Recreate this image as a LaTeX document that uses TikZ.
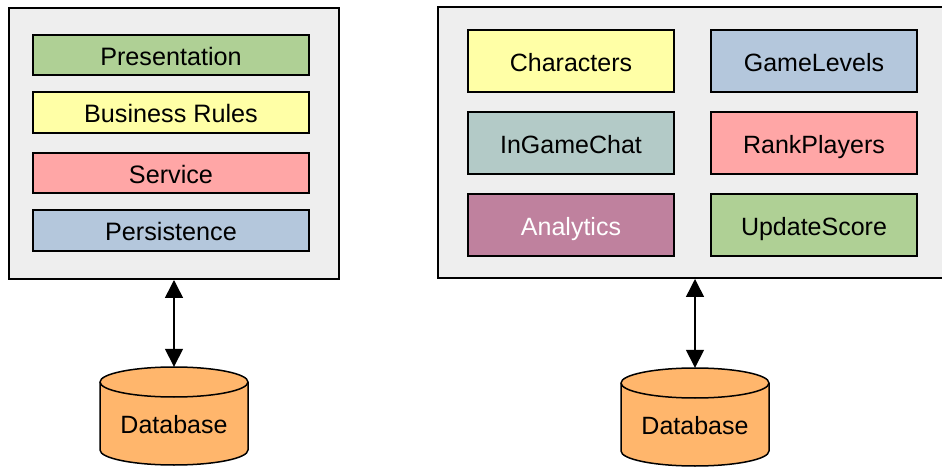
\documentclass[tikz,border=0pt]{standalone}
\usepackage{fontspec}
\setmainfont{Liberation Sans}
\usetikzlibrary{arrows.meta}
\definecolor{cgreen}{HTML}{AFD095}
\definecolor{cyellow}{HTML}{FFFFA6}
\definecolor{cred}{HTML}{FFA6A6}
\definecolor{cblue}{HTML}{B4C7DC}
\definecolor{cteal}{HTML}{B3CAC7}
\definecolor{cmagenta}{HTML}{BF819E}
\definecolor{corange}{HTML}{FFB66C}
\definecolor{cbg}{HTML}{EEEEEE}
\tikzset{
  container/.style={draw=black, fill=cbg, line width=2pt, rectangle, inner sep=0pt},
  layerbox/.style={draw=black, line width=1.5pt, rectangle, minimum width=276pt, inner sep=0pt, text height=21pt, text depth=0pt, font=\fontsize{25.2}{28}\selectfont},
  modbox/.style={draw=black, line width=1.5pt, rectangle, minimum width=206pt, minimum height=62pt, inner sep=0pt, text height=21pt, text depth=0pt, font=\fontsize{25}{28}\selectfont},
  dbnode/.style={rectangle, minimum width=148pt, minimum height=98pt, inner sep=0pt},
  dbtext/.style={font=\fontsize{25}{28}\selectfont, inner sep=0pt},
  cyl/.style={draw=black, fill=corange, line width=1.5pt},
  link/.style={line width=1.5pt, {Triangle[width=18pt,length=18pt]}-{Triangle[width=18pt,length=18pt]}}
}
\begin{document}
\begin{tikzpicture}[x=1pt,y=1pt]
\useasboundingbox (0,0) rectangle (942,466);
% left container
\node[container, minimum width=330pt, minimum height=271pt] (lc) at (174,322.5) {};
\node[layerbox, fill=cgreen, minimum height=40pt] (pres) at (171,411) {Presentation};
\node[layerbox, fill=cyellow, minimum height=41pt] (bus) at (171,353.5) {Business Rules};
\node[layerbox, fill=cred, minimum height=40pt] (serv) at (171,293) {Service};
\node[layerbox, fill=cblue, minimum height=41pt] (pers) at (171,235.5) {Persistence};
% right container
\node[container, minimum width=508pt, minimum height=271pt] (rc) at (692,323.5) {};
\node[modbox, fill=cyellow] (chars) at (571,405) {Characters};
\node[modbox, fill=cblue] (levels) at (814,405) {GameLevels};
\node[modbox, fill=cteal] (chat) at (571,323) {InGameChat};
\node[modbox, fill=cred] (rank) at (814,323) {RankPlayers};
\node[modbox, fill=cmagenta, text=white] (anal) at (571,241) {Analytics};
\node[modbox, fill=cgreen] (score) at (814,241) {UpdateScore};
% databases
\node[dbnode] (db1) at (174,50) {};
\path[cyl] (100,84) -- (100,16) arc[start angle=180, end angle=360, x radius=74, y radius=15] -- (248,84) arc[start angle=0, end angle=180, x radius=74, y radius=15] -- cycle;
\draw[line width=1.5pt] (100,84) arc[start angle=180, end angle=360, x radius=74, y radius=15];
\node[dbtext] (db1t) at (174,41) {Database};
\node[dbnode] (db2) at (695,49) {};
\path[cyl] (621,83) -- (621,15) arc[start angle=180, end angle=360, x radius=74, y radius=15] -- (769,83) arc[start angle=0, end angle=180, x radius=74, y radius=15] -- cycle;
\draw[line width=1.5pt] (621,83) arc[start angle=180, end angle=360, x radius=74, y radius=15];
\node[dbtext] (db2t) at (695,40) {Database};
% connectors
\draw[link] (lc.south) -- (db1.north);
\draw[link] (db2.north |- rc.south) -- (db2.north);
\end{tikzpicture}
\end{document}
